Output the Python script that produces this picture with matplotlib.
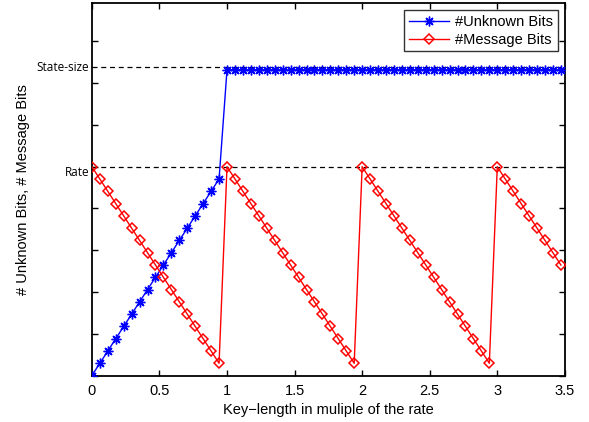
import numpy as np
import matplotlib
matplotlib.use("Agg")
import matplotlib.pyplot as plt

# ---- data ----
k = np.arange(0, 60)
x_vals = k / 17.0                      # key length in multiples of the rate
rate_level = 5.0
state_level = 7.38
unknown_flat = 7.32
unknown_bits = [rate_level * kk / 17.0 if kk < 17 else unknown_flat for kk in k]
message_bits = [rate_level * (1 - (kk % 17) / 17.0) for kk in k]
x_ticks = [0, 0.5, 1, 1.5, 2, 2.5, 3, 3.5]
x_tick_labels = ["0", "0.5", "1", "1.5", "2", "2.5", "3", "3.5"]
y_ticks = list(range(0, 9))

plt.rcParams['font.family'] = ['Liberation Sans', 'DejaVu Sans']

fig = plt.figure(figsize=(5.89, 4.22), dpi=100)
ax = fig.add_axes([0.156, 0.110, 0.803, 0.883])

ax.plot([0, 3.5], [state_level, state_level], color='black', ls=(0, (4, 3)), lw=0.9)
ax.plot([0, 3.5], [rate_level, rate_level], color='black', ls=(0, (4, 3)), lw=0.9)

ax.plot(x_vals, unknown_bits, color='#0000ff', lw=1.0, marker=(8, 2, 0),
        markersize=7, markeredgewidth=1.0, label='#Unknown Bits', zorder=3)
ax.plot(x_vals, message_bits, color='#ff0000', lw=1.0, marker='D',
        markersize=5.5, markerfacecolor='none', markeredgewidth=1.1,
        label='#Message Bits', zorder=3)

ax.set_xlim(0, 3.5)
ax.set_ylim(0, 8.92)
ax.set_xticks(x_ticks)
ax.set_xticklabels(x_tick_labels, fontsize=10.5)
ax.set_yticks(y_ticks)
ax.set_yticklabels([])
ax.tick_params(direction='in', length=4, width=1.0, top=True, right=True)
ax.tick_params(axis='x', pad=6)
for s in ax.spines.values():
    s.set_linewidth(1.3)

ax.set_xlabel("Key\u2212length in muliple of the rate", fontsize=10.5, labelpad=4)
ax.set_ylabel("# Unknown Bits, # Message Bits", fontsize=10.5, labelpad=41)

ax.text(-0.02, state_level, "State-size", ha='right', va='center',
        fontsize=8.5, family=['Open Sans', 'DejaVu Sans'], transform=ax.transData)
ax.text(-0.02, rate_level - 0.15, "Rate", ha='right', va='center',
        fontsize=8.5, family=['Open Sans', 'DejaVu Sans'], transform=ax.transData)

leg = ax.legend(loc='upper right', fontsize=10.5, frameon=True, fancybox=False,
                edgecolor='black', borderpad=0.3, handlelength=2.8,
                labelspacing=0.3, borderaxespad=0.5, handletextpad=0.4)
leg.get_frame().set_linewidth(1.0)

fig.savefig("out.png", dpi=100)
